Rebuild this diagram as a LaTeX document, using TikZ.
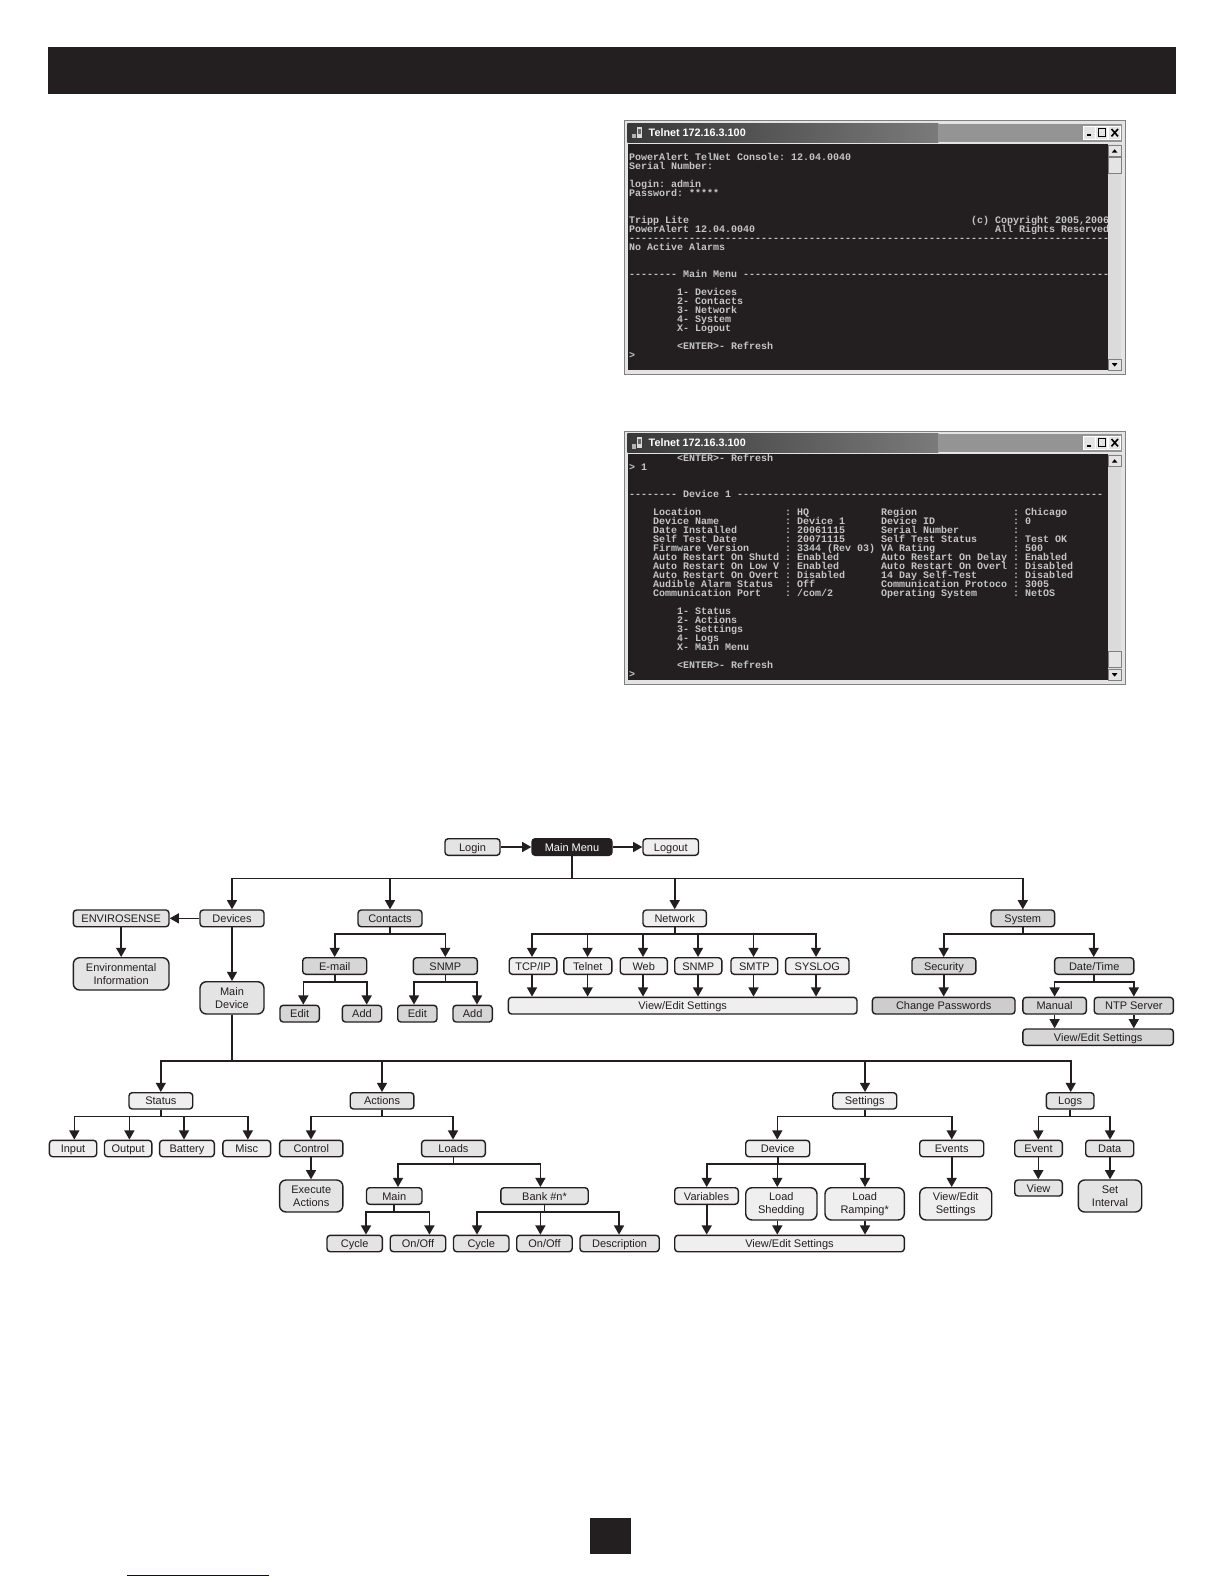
\documentclass[tikz,border=0pt]{standalone}
\usepackage{fontspec}
\setmainfont{Liberation Sans}
\newfontfamily\termf{Liberation Mono}
\usetikzlibrary{arrows.meta}
\definecolor{ink}{HTML}{231F20}
\definecolor{fa}{HTML}{EFEFEF}
\definecolor{fb}{HTML}{E4E4E4}
\definecolor{fc}{HTML}{D6D6D6}
\definecolor{fd}{HTML}{CDCDCD}
\definecolor{termtx}{HTML}{C4C4C4}
\tikzset{
 boxnode/.style={draw=ink,line width=0.7pt,rounded corners=1.6pt,inner sep=0pt,align=center,text=ink,
   text height=4pt,text depth=0pt,font=\fontsize{5.5}{6.3}\selectfont},
 tallnode/.style={boxnode,rounded corners=3.2pt,text height=,text depth=},
 arr/.style={draw=ink,line width=0.8pt,-{Triangle[width=5pt,length=4.6pt]}},
 term/.style={anchor=base west,inner sep=0pt,text=termtx,font=\termf\bfseries\frenchspacing\fontsize{5}{5}\selectfont},
 winbtn/.style={fill=fb,draw=white,line width=0.3pt},
}
\newcount\tlc
% name, x1,y1,x2,y2, fill, text
\newcommand\bx[8][boxnode]{\node[#1,fill=#7,name=#2,minimum width={(#5-#3)*0.5pt},minimum height={(#6-#4)*0.5pt}] at ({(#3+#5)/2},{(#4+#6)/2}) {#8};}
% parent, bus y, list of child/x
\newcommand\tree[3]{\foreach \c/\x in {#3}{\coordinate (j) at (\x,#2); \draw[arr] (#1.south) |- (j) -- (j |- \c.north);}}
% target, list of source/x
\newcommand\drop[2]{\foreach \c/\x in {#2}{\coordinate (j) at (\x,0); \draw[arr] (j |- \c.south) -- (j |- #1.north);}}
% column,row,text
\newcommand\tl[3]{\global\advance\tlc by 1 \node[term,name=t\the\tlc] at ({628.7+6*#1},{151.7+9*#2}) {#3};}
\newcommand\winframe[2]{%
 \fill[fb] (624,121) rectangle (1125,374.3);
 \draw[gray,line width=0.5pt] (624,121) rectangle (1125,374.3);
 \shade[left color=black!78,right color=black!52] (627.3,123.7) rectangle (938.3,142.3);
 \fill[black!42] (938.3,123.7) rectangle (1121.7,142.3);
 \fill[ink] (628,144.3) rectangle (1108,370);
 \fill[black!14] (1108,144.3) rectangle (1121,370);
 \fill[fb,draw=black!50,line width=0.3pt] (1108.3,145.7) rectangle (1121,156.3);
 \fill[fb,draw=black!50,line width=0.3pt] (1108.3,#1) rectangle (1121,#2);
 \fill[fb,draw=black!50,line width=0.3pt] (1108.3,359) rectangle (1121,370);
 \fill[black] (1114.6,149.3) -- (1117.4,152.6) -- (1111.8,152.6) -- cycle;
 \fill[black] (1114.6,366.6) -- (1117.4,363.2) -- (1111.8,363.2) -- cycle;
 \fill[winbtn] (1083.7,126.3) rectangle (1095,139);
 \fill[winbtn] (1095.7,126.3) rectangle (1107.7,139);
 \fill[winbtn] (1108.7,126.3) rectangle (1120.7,139);
 \fill[black] (1086.5,134.5) rectangle (1091,136.5);
 \draw[black,line width=0.4pt] (1098.2,128.5) rectangle (1105.4,136.8);
 \draw[black,line width=0.8pt] (1111.5,129) -- (1118,136.4) (1118,129) -- (1111.5,136.4);
 \fill[black!30] (632,134) rectangle (636,138.5);
 \fill[black!15] (636.5,127) rectangle (642,138);
 \fill[black!60] (638,129) rectangle (640.5,134);
 \node[name=ttl#1,anchor=west,inner sep=0pt,text=white,font=\fontsize{5.4}{6}\selectfont\bfseries] at (648.3,132.3) {Telnet 172.16.3.100};
}
\begin{document}
\begin{tikzpicture}[x=0.5pt,y=-0.5pt]
\useasboundingbox (0,0) rectangle (1224,1584);
\fill[white] (0,0) rectangle (1224,1584);
% header, page tab, link rule
\fill[ink] (47.5,47.5) rectangle (1176,94);
\fill[ink] (590,1518) rectangle (631,1554);
\draw[blue!50!black,line width=0.5pt] (127,1575) -- (268.6,1575);
% window 1
\winframe{157}{173.7}
\tl{0}{1}{PowerAlert TelNet Console: 12.04.0040}
\tl{0}{2}{Serial Number:}
\tl{0}{4}{login: admin}
\tl{0}{5}{Password: *****}
\tl{0}{8}{Tripp Lite}
\tl{57}{8}{(c) Copyright 2005,2006}
\tl{0}{9}{PowerAlert 12.04.0040}
\tl{61}{9}{All Rights Reserved}
\tl{0}{10}{--------------------------------------------------------------------------------}
\tl{0}{11}{No Active Alarms}
\tl{0}{14}{--------}
\tl{9}{14}{Main Menu}
\tl{19}{14}{-------------------------------------------------------------}
\tl{8}{16}{1- Devices}
\tl{8}{17}{2- Contacts}
\tl{8}{18}{3- Network}
\tl{8}{19}{4- System}
\tl{8}{20}{X- Logout}
\tl{8}{22}{<ENTER>- Refresh}
\tl{0}{23}{>}
% window 2
\begin{scope}[shift={(0,310)}]
\winframe{341.7}{357.7}
\tl{8}{0}{<ENTER>- Refresh}
\tl{0}{1}{> 1}
\tl{0}{4}{--------}
\tl{9}{4}{Device 1}
\tl{18}{4}{-------------------------------------------------------------}
\tl{4}{6}{Location}\tl{26}{6}{: HQ}\tl{42}{6}{Region}\tl{64}{6}{: Chicago}
\tl{4}{7}{Device Name}\tl{26}{7}{: Device 1}\tl{42}{7}{Device ID}\tl{64}{7}{: 0}
\tl{4}{8}{Date Installed}\tl{26}{8}{: 20061115}\tl{42}{8}{Serial Number}\tl{64}{8}{:}
\tl{4}{9}{Self Test Date}\tl{26}{9}{: 20071115}\tl{42}{9}{Self Test Status}\tl{64}{9}{: Test OK}
\tl{4}{10}{Firmware Version}\tl{26}{10}{: 3344 (Rev 03)}\tl{42}{10}{VA Rating}\tl{64}{10}{: 500}
\tl{4}{11}{Auto Restart On Shutd}\tl{26}{11}{: Enabled}\tl{42}{11}{Auto Restart On Delay}\tl{64}{11}{: Enabled}
\tl{4}{12}{Auto Restart On Low V}\tl{26}{12}{: Enabled}\tl{42}{12}{Auto Restart On Overl}\tl{64}{12}{: Disabled}
\tl{4}{13}{Auto Restart On Overt}\tl{26}{13}{: Disabled}\tl{42}{13}{14 Day Self-Test}\tl{64}{13}{: Disabled}
\tl{4}{14}{Audible Alarm Status}\tl{26}{14}{: Off}\tl{42}{14}{Communication Protoco}\tl{64}{14}{: 3005}
\tl{4}{15}{Communication Port}\tl{26}{15}{: /com/2}\tl{42}{15}{Operating System}\tl{64}{15}{: NetOS}
\tl{8}{17}{1- Status}
\tl{8}{18}{2- Actions}
\tl{8}{19}{3- Settings}
\tl{8}{20}{4- Logs}
\tl{8}{21}{X- Main Menu}
\tl{8}{23}{<ENTER>- Refresh}
\tl{0}{24}{>}
\end{scope}
% top row
\bx{login}{445}{838.7}{500}{855.3}{fb}{Login}
\bx[boxnode,text=white]{mainm}{532}{838.7}{612}{855.3}{ink}{Main Menu}
\bx{logout}{643}{838.7}{698.5}{855.3}{fa}{Logout}
% second row
\bx{envs}{73.3}{910}{169}{926.7}{fb}{ENVIROSENSE}
\bx{devices}{200}{910}{264}{926.7}{fb}{Devices}
\bx{contacts}{358}{910}{422}{926.7}{fc}{Contacts}
\bx{network}{643}{910}{706.4}{926.7}{fa}{Network}
\bx{system}{991}{910}{1054.6}{926.7}{fc}{System}
\bx[tallnode]{envinfo}{73.3}{957.7}{169}{990}{fb}{Environmental\\Information}
\bx[tallnode]{maindev}{200}{981.7}{264}{1014}{fb}{Main\\Device}
\bx{email}{302.7}{957.7}{366.7}{974.3}{fc}{E-mail}
\bx{snmpa}{413.3}{957.7}{477.3}{974.3}{fc}{SNMP}
\bx{edita}{280}{1005.3}{319.3}{1022}{fc}{Edit}
\bx{adda}{342.3}{1005.3}{381.7}{1022}{fc}{Add}
\bx{editb}{397.7}{1005.3}{437}{1022}{fc}{Edit}
\bx{addb}{453}{1005.3}{492.3}{1022}{fc}{Add}
\bx{tcp}{509.2}{957.7}{556.8}{974.3}{fa}{TCP/IP}
\bx{telnet}{563.8}{957.7}{611.8}{974.3}{fa}{Telnet}
\bx{web}{620.2}{957.7}{667.3}{974.3}{fa}{Web}
\bx{snmpb}{674.7}{957.7}{721.8}{974.3}{fa}{SNMP}
\bx{smtp}{731}{957.7}{777.7}{974.3}{fa}{SMTP}
\bx{syslog}{785.6}{957.7}{849}{974.3}{fa}{SYSLOG}
\bx{netview}{508.4}{997.3}{857}{1014}{fa}{View/Edit Settings}
\bx{security}{912}{957.7}{975.8}{974.3}{fc}{Security}
\bx{datetime}{1054.6}{957.7}{1133.8}{974.3}{fc}{Date/Time}
\bx{chpass}{872.4}{997.3}{1015}{1014}{fd}{Change Passwords}
\bx{manual}{1022.9}{997.3}{1086.3}{1014}{fc}{Manual}
\bx{ntp}{1094.2}{997.3}{1173.4}{1014}{fc}{NTP Server}
\bx{sysview}{1022.9}{1029}{1173.4}{1045.3}{fc}{View/Edit Settings}
% device branch
\bx{status}{129}{1092.7}{192.7}{1109}{fa}{Status}
\bx{actions}{350.2}{1092.7}{413.9}{1109}{fb}{Actions}
\bx{settings}{832.7}{1092.7}{896.7}{1109}{fa}{Settings}
\bx{logs}{1046.3}{1092.7}{1094}{1109}{fb}{Logs}
\bx{input}{49.4}{1140.3}{96.7}{1156.7}{fa}{Input}
\bx{output}{104.5}{1140.3}{151.8}{1156.7}{fa}{Output}
\bx{battery}{159.6}{1140.3}{214.3}{1156.7}{fa}{Battery}
\bx{misc}{222.9}{1140.3}{270.6}{1156.7}{fa}{Misc}
\bx{control}{279.6}{1140.3}{342.9}{1156.7}{fb}{Control}
\bx{loads}{421.6}{1140.3}{485.3}{1156.7}{fb}{Loads}
\bx[tallnode]{execact}{279.6}{1180}{342.9}{1212}{fb}{Execute\\Actions}
\bx{mainl}{366.5}{1187.7}{422}{1204.3}{fb}{Main}
\bx{bank}{500.8}{1187.7}{588.2}{1204.3}{fb}{Bank \#n*}
\bx{cyclea}{327}{1235.3}{382.4}{1251.7}{fb}{Cycle}
\bx{onoffa}{390.2}{1235.3}{445.7}{1251.7}{fb}{On/Off}
\bx{cycleb}{453.5}{1235.3}{509}{1251.7}{fb}{Cycle}
\bx{onoffb}{516.7}{1235.3}{572.2}{1251.7}{fb}{On/Off}
\bx{descr}{580}{1235.3}{659.2}{1251.7}{fb}{Description}
\bx{device}{745.7}{1140.3}{809.7}{1156.7}{fa}{Device}
\bx{events}{919.7}{1140.3}{983.7}{1156.7}{fa}{Events}
\bx{variables}{674.7}{1187.7}{738.3}{1204.3}{fa}{Variables}
\bx[tallnode]{shedding}{745.7}{1187.7}{817}{1220}{fa}{Load\\Shedding}
\bx[tallnode]{ramping}{825}{1187.7}{904.3}{1220}{fa}{Load\\Ramping*}
\bx[tallnode]{evview}{919.7}{1187.7}{991.7}{1220}{fa}{View/Edit\\Settings}
\bx{devview}{674.7}{1235.3}{904.3}{1251.7}{fa}{View/Edit Settings}
\bx{event}{1014.7}{1140.3}{1062.3}{1156.7}{fb}{Event}
\bx{data}{1085.7}{1140.3}{1133.7}{1156.7}{fb}{Data}
\bx{viewl}{1014.7}{1180}{1062.3}{1196}{fb}{View}
\bx[tallnode]{setint}{1078.3}{1180}{1141.7}{1212}{fb}{Set\\Interval}
% connectors
\draw[arr] (login) -- (mainm);
\draw[arr] (mainm) -- (logout);
\draw[arr] (devices) -- (envs);
\draw[arr] (envs) -- (envinfo);
\draw[arr] (devices) -- (maindev);
\tree{mainm}{878.3}{devices/232,contacts/390,network/674.7,system/1022.8}
\tree{contacts}{933.7}{email/334.7,snmpa/445.3}
\tree{email}{981.7}{edita/303.3,adda/366.7}
\tree{snmpa}{981.7}{editb/414,addb/477}
\tree{network}{933.7}{tcp/532,telnet/587.6,web/643,snmpb/698,smtp/753.5,syslog/816}
\drop{netview}{tcp/532,telnet/587.6,web/643,snmpb/698,smtp/753.5,syslog/816}
\tree{system}{933.7}{security/943.7,datetime/1093.7}
\drop{chpass}{security/943.7}
\tree{datetime}{981.7}{manual/1054.6,ntp/1133.8}
\drop{sysview}{manual/1054.6,ntp/1133.8}
\tree{maindev}{1061}{status/160.8,actions/382,settings/865,logs/1070.7}
\tree{status}{1116.3}{input/74.3,output/129.4,battery/184,misc/247.8}
\tree{actions}{1116.3}{control/311,loads/453}
\drop{execact}{control/311}
\tree{loads}{1164}{mainl/398,bank/540.4}
\tree{mainl}{1211.7}{cyclea/366,onoffa/429.4}
\tree{bank}{1211.7}{cycleb/477,onoffb/540.4,descr/619}
\tree{settings}{1116.3}{device/777.3,events/951.7}
\tree{device}{1164}{variables/706.7,shedding/777.3,ramping/865}
\drop{devview}{variables/706.7,shedding/777.3,ramping/865}
\drop{evview}{events/951.7}
\tree{logs}{1116.3}{event/1038.3,data/1110}
\drop{viewl}{event/1038.3}
\drop{setint}{data/1110}
\end{tikzpicture}
\end{document}
